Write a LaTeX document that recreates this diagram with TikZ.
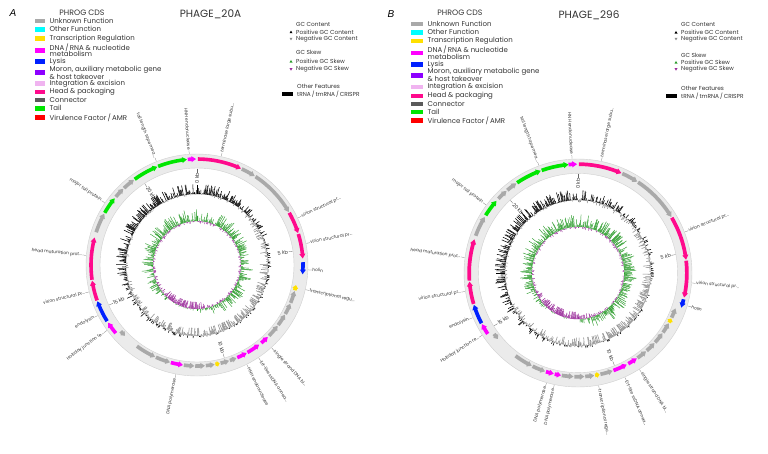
\documentclass[tikz,border=0pt]{standalone}
\usepackage{fontspec}
\setmainfont{Poppins}
\newfontfamily\panelfont{Liberation Sans}
\definecolor{unkc}{HTML}{A9A9A9}
\definecolor{othc}{HTML}{00FFFF}
\definecolor{trc}{HTML}{FFE000}
\definecolor{dnac}{HTML}{FF00FF}
\definecolor{lysc}{HTML}{0020FF}
\definecolor{morc}{HTML}{8C00FF}
\definecolor{intc}{HTML}{F0B4F0}
\definecolor{headc}{HTML}{FF0A8C}
\definecolor{conc}{HTML}{5A5A5A}
\definecolor{tailc}{HTML}{00E600}
\definecolor{virc}{HTML}{FF0000}
\definecolor{bandc}{HTML}{EBEBEB}
\definecolor{bandl}{HTML}{D0D0D0}
\definecolor{skpos}{HTML}{2E9E2E}
\definecolor{skneg}{HTML}{9B2D9B}
\definecolor{gcneg}{HTML}{8E8E8E}
\definecolor{txtc}{HTML}{333333}
\tikzset{
 lab/.style={font=\fontsize{4.4}{5}\selectfont, inner sep=0.3pt, text=txtc},
 leader/.style={draw=black!55, line width=0.25pt},
 ticklab/.style={font=\fontsize{5}{6}\selectfont, inner sep=0.3pt, text=txtc},
 tickline/.style={draw=black!60, line width=0.3pt},
 legtxt/.style={font=\fontsize{7}{6.8}\selectfont, inner sep=0pt, text=txtc, align=left},
 gctxt/.style={font=\fontsize{5.8}{6}\selectfont, inner sep=0pt, text=txtc},
 hdr/.style={font=\fontsize{7.8}{8}\selectfont, inner sep=0pt, text=txtc},
 ttl/.style={font=\fontsize{10.5}{12}\selectfont, inner sep=0pt, text=txtc},
 panlab/.style={font=\panelfont\itshape\fontsize{10}{12}\selectfont, inner sep=0pt},
 gcp/.style={draw=black, line width=0.55pt},
 gcn/.style={draw=gcneg, line width=0.55pt},
 skp/.style={draw=skpos, line width=0.45pt},
 skn/.style={draw=skneg, line width=0.45pt},
}
% gene arrow: #1 track radius, #2 start, #3 end (deg clockwise from top), #4 colour, #5 f/r
\newcommand\garr[5]{%
 \pgfmathsetmacro\gah{min(2.5,0.6*(#3-#2))}%
 \if f#5
  \pgfmathsetmacro\gS{90-#2}\pgfmathsetmacro\gT{90-#3}\pgfmathsetmacro\gB{90-#3+\gah}%
 \else
  \pgfmathsetmacro\gS{90-#3}\pgfmathsetmacro\gT{90-#2}\pgfmathsetmacro\gB{90-#2-\gah}%
 \fi
 \pgfmathsetmacro\gro{#1+1.8}\pgfmathsetmacro\gri{#1-1.8}%
 \pgfmathsetmacro\ghro{#1+3}\pgfmathsetmacro\ghri{#1-3}%
 \fill[#4] (\gS:\gro) arc[start angle=\gS, end angle=\gB, radius=\gro] -- (\gB:\ghro) -- (\gT:#1) -- (\gB:\ghri) -- (\gB:\gri) arc[start angle=\gB, end angle=\gS, radius=\gri] -- cycle;}
% gene label: #1 name, #2 angle, #3 text
\newcommand\glab[3]{%
 \pgfmathsetmacro\lph{90-#2}%
 \coordinate (#1c) at (\lph:\Rlead);
 \ifdim #2pt<180pt
  \node[lab, rotate=\lph, anchor=west] (#1) at (\lph:\Rtext) {#3};
  \draw[leader] (#1c) -- (#1.west);
 \else
  \pgfmathsetmacro\lphf{\lph+180}%
  \node[lab, rotate=\lphf, anchor=east] (#1) at (\lph:\Rtext) {#3};
  \draw[leader] (#1c) -- (#1.east);
 \fi}
% tick label
\newcommand\tlab[3]{%
 \pgfmathsetmacro\lph{90-#2}%
 \coordinate (#1c) at (\lph:96.5);
 \ifdim #2pt<180pt
  \node[ticklab, rotate=\lph, anchor=east] (#1) at (\lph:92.5) {#3};
  \draw[tickline] (#1c) -- (#1.east);
 \else
  \pgfmathsetmacro\lphf{\lph+180}%
  \node[ticklab, rotate=\lphf, anchor=west] (#1) at (\lph:92.5) {#3};
  \draw[tickline] (#1c) -- (#1.west);
 \fi}
% histogram ring: #1 base, #2 bias, #3 pos style, #4 neg style, #5 out len, #6 in len
\newcommand\histring[6]{%
 \foreach \t in {0,0.5,...,359.5}{%
  \pgfmathsetmacro\hv{#2+0.75*rand}%
  \pgfmathsetmacro\hl{min(1,0.06+abs(\hv)*(0.25+abs(\hv))*0.8)}%
  \pgfmathsetmacro\hph{90-\t}%
  \ifdim\hv pt>0pt
   \pgfmathsetmacro\hr{#1+#5*\hl}\draw[#3] (\hph:#1) -- (\hph:\hr);
  \else
   \pgfmathsetmacro\hr{#1-#6*\hl}\draw[#4] (\hph:#1) -- (\hph:\hr);
  \fi}}
% legend entry: #1 name, #2 swatch x, #3 y, #4 colour, #5 text, #6 swatch width
\newcommand\legent[6]{%
 \fill[#4] (#2,-#3-2.2) rectangle ++(#6,4.4);
 \node[legtxt, anchor=west] (#1) at (#2+#6+4.5,-#3) {#5};}
\newcommand\uptri[4]{\fill[#4] (#2-1.5,-#3-1.2) -- (#2+1.5,-#3-1.2) -- (#2,-#3+1.4) -- cycle;}
\newcommand\dntri[4]{\fill[#4] (#2-1.5,-#3+1.2) -- (#2+1.5,-#3+1.2) -- (#2,-#3-1.4) -- cycle;}
\begin{document}
\begin{tikzpicture}[x=1pt,y=1pt]
\useasboundingbox (0,0) rectangle (768,-453);
\fill[white] (0,0) rectangle (768,-453);
%================ PANEL A =================
\node[panlab] (pA) at (13,-13.5) {A};
\node[hdr] (hA) at (82,-13) {PHROG CDS};
\node[ttl] (tA) at (210.5,-14) {PHAGE\_20A};
\legent{la1}{35}{20.7}{unkc}{Unknown Function}{10}
\legent{la2}{35}{29.3}{othc}{Other Function}{10}
\legent{la3}{35}{38.3}{trc}{Transcription Regulation}{10}
\legent{la4}{35}{50.3}{dnac}{DNA\,/\,RNA \& nucleotide\\metabolism}{10}
\legent{la5}{35}{61.3}{lysc}{Lysis}{10}
\legent{la6}{35}{72.5}{morc}{Moron, auxiliary metabolic gene\\\& host takeover}{10}
\legent{la7}{35}{83.3}{intc}{Integration \& excision}{10}
\legent{la8}{35}{91.7}{headc}{Head \& packaging}{10}
\legent{la9}{35}{100}{conc}{Connector}{10}
\legent{la10}{35}{108.3}{tailc}{Tail}{10}
\legent{la11}{35}{117.3}{virc}{Virulence Factor\,/\,AMR}{10}
\node[gctxt, anchor=west] (ga1) at (296,-24) {GC Content};
\uptri{}{291}{32}{black}
\node[gctxt, anchor=west] (ga2) at (296,-32) {Positive GC Content};
\dntri{}{291}{39}{gcneg}
\node[gctxt, anchor=west] (ga3) at (296,-39) {Negative GC Content};
\node[gctxt, anchor=west] (ga4) at (296,-52.7) {GC Skew};
\uptri{}{291}{61.3}{skpos}
\node[gctxt, anchor=west] (ga5) at (296,-61.3) {Positive GC Skew};
\dntri{}{291}{69.3}{skneg}
\node[gctxt, anchor=west] (ga6) at (296,-69.3) {Negative GC Skew};
\node[gctxt, anchor=west] (ga7) at (297,-86) {Other Features};
\fill[black] (282,-91.8) rectangle (293,-96.2);
\node[gctxt, anchor=west] (ga8) at (297,-94) {tRNA\,/\,tmRNA\,/\,CRISPR};
\begin{scope}[shift={(197,-265)}]
 \def\Rlead{111.5}\def\Rtext{115}
 \path[fill=bandc, draw=bandl, line width=0.4pt, even odd rule] (0,0) circle[radius=111] (0,0) circle[radius=97];
 \pgfmathsetseed{11}
 \histring{71}{0.45*cos(\t+30)}{gcp}{gcn}{10}{8}
 \histring{44}{0.25-0.85*exp(-((\t-200)/35)*((\t-200)/35))}{skp}{skn}{12}{7}
 \garr{106}{0.5}{24.5}{headc}{f}
 \garr{106}{25}{33}{unkc}{f}
 \garr{106}{33.5}{60}{unkc}{f}
 \garr{106}{60.5}{72.5}{headc}{f}
 \garr{106}{73}{86.5}{headc}{f}
 \garr{106}{88.5}{95}{lysc}{f}
 \garr{101}{101.5}{104.5}{trc}{r}
 \garr{101}{105}{112}{unkc}{r}
 \garr{101}{112.5}{119}{unkc}{r}
 \garr{101}{119.5}{126.5}{unkc}{r}
 \garr{101}{127}{134.5}{unkc}{r}
 \garr{101}{135.5}{140.5}{dnac}{r}
 \garr{101}{142}{150}{dnac}{r}
 \garr{101}{150.5}{156.5}{dnac}{r}
 \garr{101}{157}{161}{unkc}{r}
 \garr{101}{161.5}{166.5}{unkc}{r}
 \garr{101}{167}{169.5}{trc}{r}
 \garr{101}{170}{175}{unkc}{r}
 \garr{101}{175.5}{181}{unkc}{r}
 \garr{101}{181.5}{187.5}{unkc}{r}
 \garr{101}{188}{195}{dnac}{r}
 \garr{101}{195.5}{204}{unkc}{r}
 \garr{101}{204.5}{216.5}{unkc}{r}
 \garr{101}{225.5}{229}{unkc}{r}
 \garr{106}{230}{237}{dnac}{f}
 \garr{106}{238}{250}{lysc}{f}
 \garr{106}{250.5}{261.5}{headc}{f}
 \garr{106}{262}{285}{headc}{f}
 \garr{106}{288}{299}{unkc}{f}
 \garr{106}{299.5}{309}{tailc}{f}
 \garr{106}{310}{316}{unkc}{f}
 \garr{106}{316.5}{323.5}{unkc}{f}
 \garr{106}{324}{338}{tailc}{f}
 \garr{106}{338.5}{354.5}{tailc}{f}
 \garr{106}{355}{359.5}{dnac}{f}
 \tlab{ta0}{0}{0 kb}
 \tlab{ta5}{81.8}{5 kb}
 \tlab{ta10}{163.6}{10 kb}
 \tlab{ta15}{245.5}{15 kb}
 \tlab{ta20}{327.3}{20 kb}
 \glab{a1}{338.6}{tail length tape mea...}
 \glab{a2}{356}{HNH endonuclease}
 \glab{a3}{12.6}{terminase large subu...}
 \glab{a4}{65}{virion structural pr...}
 \glab{a5}{78.8}{virion structural pr...}
 \glab{a6}{92.5}{holin}
 \glab{a7}{102.8}{transcriptional regu...}
 \glab{a8}{138}{single strand DNA bi...}
 \glab{a9}{146.4}{Erf-like ssDNA annea...}
 \glab{a10}{153.4}{HNH endonuclease}
 \glab{a11}{191}{DNA polymerase}
 \glab{a12}{234}{Holliday junction re...}
 \glab{a13}{243}{endolysin}
 \glab{a14}{256}{virion structural pr...}
 \glab{a15}{275}{head maturation prot...}
 \glab{a16}{304}{major tail protein}
\end{scope}
%================ PANEL B =================
\node[panlab] (pB) at (391,-14) {B};
\node[hdr] (hB) at (460,-12.5) {PHROG CDS};
\node[ttl] (tB) at (589,-15) {PHAGE\_296};
\legent{lb1}{411}{24}{unkc}{Unknown Function}{12}
\legent{lb2}{411}{32.3}{othc}{Other Function}{12}
\legent{lb3}{411}{40.7}{trc}{Transcription Regulation}{12}
\legent{lb4}{411}{53}{dnac}{DNA\,/\,RNA \& nucleotide\\metabolism}{12}
\legent{lb5}{411}{64.3}{lysc}{Lysis}{12}
\legent{lb6}{411}{75.3}{morc}{Moron, auxiliary metabolic gene\\\& host takeover}{12}
\legent{lb7}{411}{86.7}{intc}{Integration \& excision}{12}
\legent{lb8}{411}{95.7}{headc}{Head \& packaging}{12}
\legent{lb9}{411}{103.7}{conc}{Connector}{12}
\legent{lb10}{411}{112}{tailc}{Tail}{12}
\legent{lb11}{411}{120.3}{virc}{Virulence Factor\,/\,AMR}{12}
\node[gctxt, anchor=west] (gb1) at (681,-24) {GC Content};
\uptri{}{676}{32.3}{black}
\node[gctxt, anchor=west] (gb2) at (681,-32.3) {Positive GC Content};
\dntri{}{676}{39}{gcneg}
\node[gctxt, anchor=west] (gb3) at (681,-39) {Negative GC Content};
\node[gctxt, anchor=west] (gb4) at (681,-55) {GC Skew};
\uptri{}{676}{62.3}{skpos}
\node[gctxt, anchor=west] (gb5) at (681,-62.3) {Positive GC Skew};
\dntri{}{676}{69.3}{skneg}
\node[gctxt, anchor=west] (gb6) at (681,-69.3) {Negative GC Skew};
\node[gctxt, anchor=west] (gb7) at (681,-88) {Other Features};
\fill[black] (666,-93.8) rectangle (677,-98.2);
\node[gctxt, anchor=west] (gb8) at (681,-96) {tRNA\,/\,tmRNA\,/\,CRISPR};
\begin{scope}[shift={(578,-273)}, scale=1.027]
 \def\Rlead{111.5}\def\Rtext{115}
 \path[fill=bandc, draw=bandl, line width=0.4pt, even odd rule] (0,0) circle[radius=111] (0,0) circle[radius=97];
 \pgfmathsetseed{23}
 \histring{71}{0.45*cos(\t+40)}{gcp}{gcn}{10}{8}
 \histring{45}{0.25-0.85*exp(-((\t-205)/35)*((\t-205)/35))}{skp}{skn}{12}{7}
 \garr{106}{355}{359.5}{dnac}{f}
 \garr{106}{0.5}{23.5}{headc}{f}
 \garr{106}{24}{33}{unkc}{f}
 \garr{106}{33.5}{59}{unkc}{f}
 \garr{106}{59.5}{83}{headc}{f}
 \garr{106}{83.5}{103}{headc}{f}
 \garr{106}{104}{108.5}{lysc}{f}
 \garr{101}{110}{115.5}{unkc}{r}
 \garr{101}{116}{118.5}{trc}{r}
 \garr{101}{119}{125}{unkc}{r}
 \garr{101}{125.5}{132}{unkc}{r}
 \garr{101}{132.5}{138.5}{unkc}{r}
 \garr{101}{139}{145}{unkc}{r}
 \garr{101}{145.5}{151}{dnac}{r}
 \garr{101}{152}{160}{dnac}{r}
 \garr{101}{160.5}{167.5}{unkc}{r}
 \garr{101}{168}{170.5}{trc}{r}
 \garr{101}{171}{176}{unkc}{r}
 \garr{101}{176.5}{182}{unkc}{r}
 \garr{101}{182.5}{189}{unkc}{r}
 \garr{101}{189.5}{193}{dnac}{r}
 \garr{101}{193.5}{198}{dnac}{r}
 \garr{101}{198.5}{206}{unkc}{r}
 \garr{101}{206.5}{217}{unkc}{r}
 \garr{101}{230.5}{234}{unkc}{r}
 \garr{106}{236}{242}{dnac}{f}
 \garr{106}{242.5}{253}{lysc}{f}
 \garr{106}{253.5}{265.5}{headc}{f}
 \garr{106}{266}{288}{headc}{f}
 \garr{106}{290}{301}{unkc}{f}
 \garr{106}{302}{311.5}{tailc}{f}
 \garr{106}{313}{319}{unkc}{f}
 \garr{106}{319.5}{325.5}{unkc}{f}
 \garr{106}{326}{340}{tailc}{f}
 \garr{106}{340.5}{355}{tailc}{f}
 \tlab{tb0}{0}{0 kb}
 \tlab{tb5}{79.3}{5 kb}
 \tlab{tb10}{158.5}{10 kb}
 \tlab{tb15}{237.8}{15 kb}
 \tlab{tb20}{317}{20 kb}
 \glab{b1}{340}{tail length tape mea...}
 \glab{b2}{357}{HNH endonuclease}
 \glab{b3}{11.8}{terminase large subu...}
 \glab{b4}{69}{virion structural pr...}
 \glab{b5}{95}{virion structural pr...}
 \glab{b6}{106.7}{holin}
 \glab{b7}{147.5}{single strand DNA bi...}
 \glab{b8}{155.8}{Erf-like ssDNA annea...}
 \glab{b9}{169.6}{transcriptional regu...}
 \glab{b10}{192}{DNA polymerase}
 \glab{b11}{196}{DNA polymerase}
 \glab{b12}{237}{Holliday junction re...}
 \glab{b13}{247}{endolysin}
 \glab{b14}{260.7}{virion structural pr...}
 \glab{b15}{277.8}{head maturation prot...}
 \glab{b16}{306.5}{major tail protein}
\end{scope}
\end{tikzpicture}
\end{document}
